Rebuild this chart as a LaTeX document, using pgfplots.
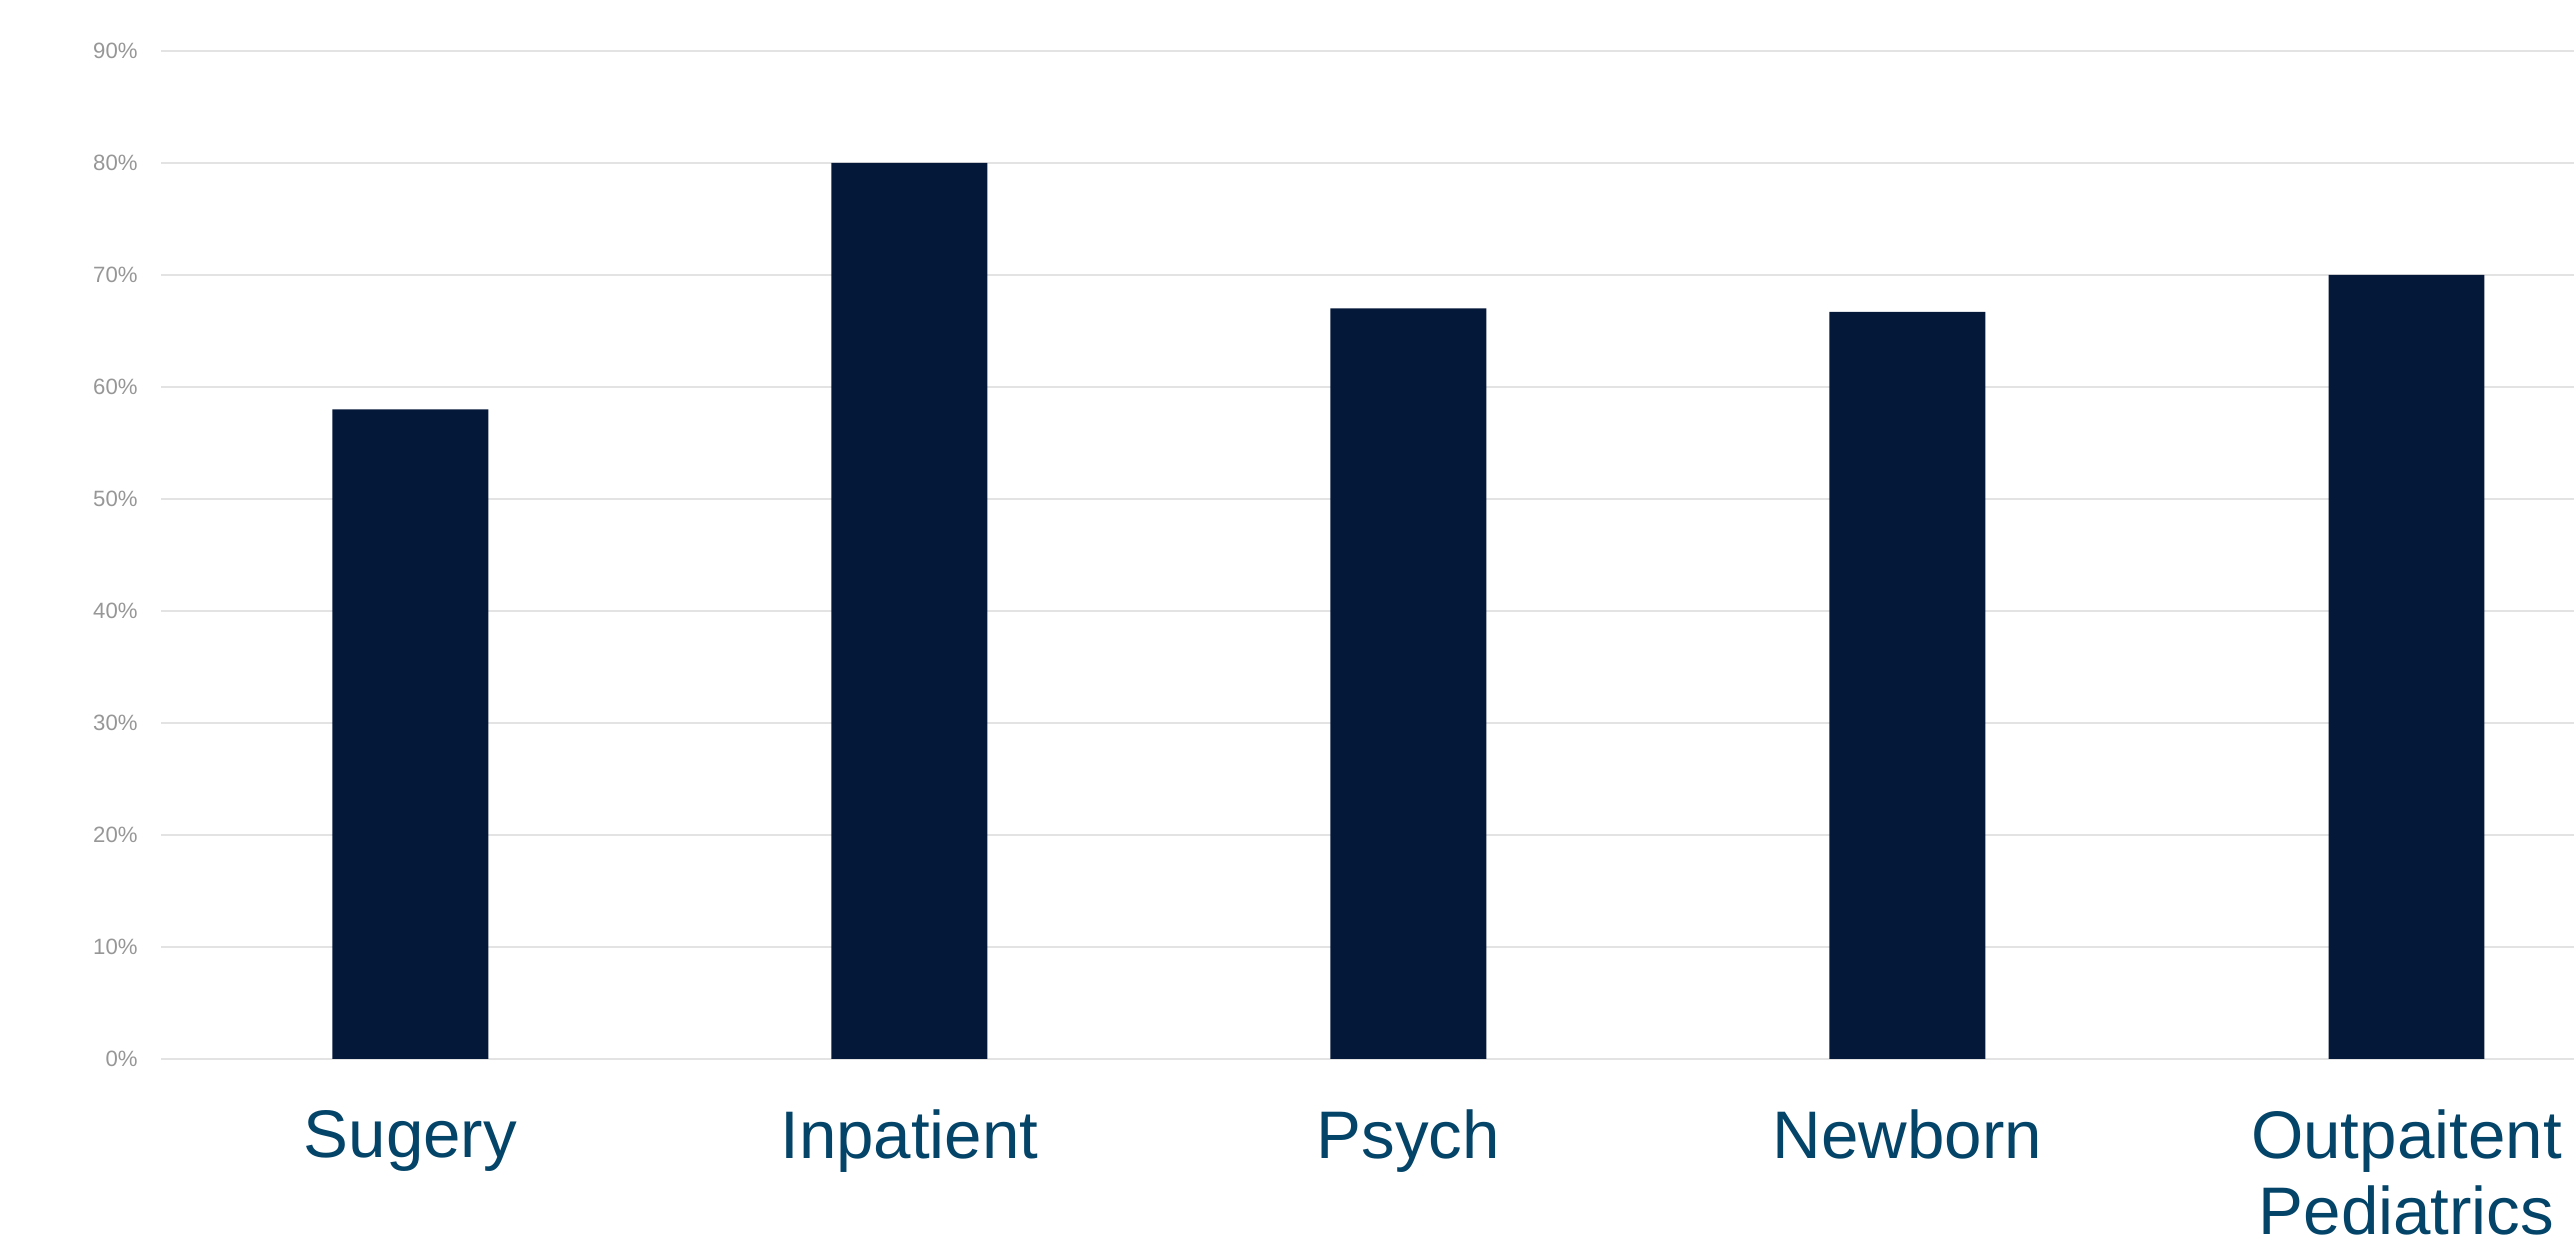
\documentclass[border=0pt]{standalone}
\usepackage{pgfplots}
\pgfplotsset{compat=1.18}
\usepackage{fontspec}
\setmainfont{Liberation Sans}
\definecolor{barc}{HTML}{041839}
\definecolor{labc}{HTML}{034468}
\definecolor{tickc}{HTML}{979797}
\definecolor{gridc}{HTML}{E3E3E3}
\begin{document}
\begin{tikzpicture}
\useasboundingbox (0,0) rectangle (1568pt,758pt);
\clip (0,0) rectangle (1568pt,758pt);
\begin{axis}[
  at={(98pt,113pt)}, anchor=south west,
  scale only axis, width=1520pt, height=614pt,
  xmin=-0.5, xmax=4.5, ymin=0, ymax=90,
  axis line style={draw=none},
  major tick length=0pt,
  ytick={0,10,...,90},
  ymajorgrids, grid style={gridc, line width=1.3pt},
  /pgf/number format/assume math mode=true,
  yticklabel={\pgfmathprintnumber{\tick}\%},
  yticklabel style={font=\fontsize{13.5}{16}\selectfont, text=tickc, inner sep=0pt, anchor=east, xshift=-14pt},
  xtick={0,1,2,3,4},
  xticklabels={Sugery,Inpatient,Psych,Newborn,{Outpaitent\\Pediatrics}},
  xticklabel style={font=\fontsize{41}{46}\selectfont, text=labc, align=center, inner sep=0pt, anchor=north, yshift=-31pt},
]
\addplot[ybar, bar width=95pt, fill=barc, draw=none] coordinates {(0,58) (1,80) (2,67) (3,66.7) (4,70)};
\end{axis}
\end{tikzpicture}
\end{document}
